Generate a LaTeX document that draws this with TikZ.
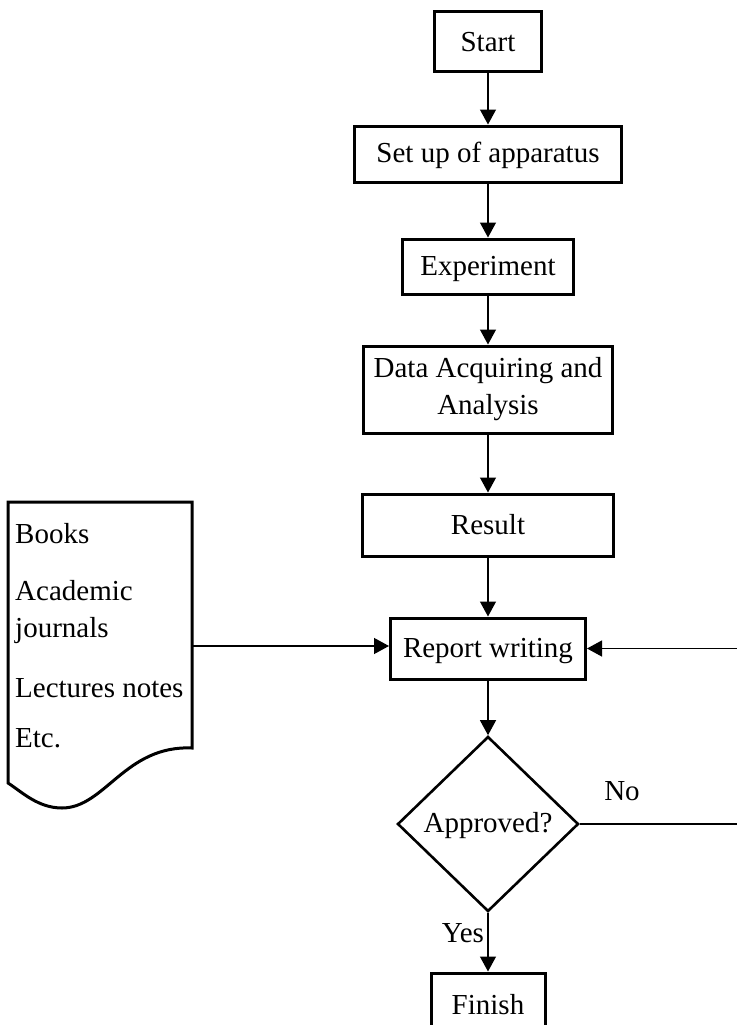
\documentclass[tikz,border=0pt]{standalone}
\usepackage{fontspec}
\setmainfont{Liberation Serif}
\usetikzlibrary{arrows.meta,shapes.geometric}

\begin{document}
\begin{tikzpicture}[x=1pt, y=-1pt, font=\fontsize{29}{37}\selectfont,
        stepbox/.style={draw, line width=3pt, inner sep=0pt, align=center},
        flow/.style={-{Triangle[width=16pt,length=15pt]}, line width=1.3pt}]
    \useasboundingbox (0,0) rectangle (736,1025);
    \node(start) at(488, 42) [stepbox, minimum width=107, minimum height=60] {Start};
    \node(setup) at(488, 154) [stepbox, minimum width=267, minimum height=56, text height=24] {Set up of apparatus};
    \node(exper) at(488, 266.5) [stepbox, minimum width=171, minimum height=55, text height=24] {Experiment};
    \node(data) at(488, 389.5) [stepbox, minimum width=249, minimum height=87] {Data Acquiring and\\Analysis};
    \node(result) at(488, 525) [stepbox, minimum width=251, minimum height=62] {Result};
    \node(report) at(488, 648.5) [stepbox, minimum width=195, minimum height=61, text height=24] {Report writing};
    \node(approved) at(488, 824) [draw, diamond, line width=2.6pt, inner sep=0pt,
        minimum width=181, minimum height=175, text height=24] {Approved?};
    \node(finish) at(488, 1005) [stepbox, minimum width=114, minimum height=64] {Finish};

    % sources document
    \draw[line width=3pt] (8,502) -- (192,502) -- (192,748)
        .. controls (125,745) and (105,808) .. (62,808)
        .. controls (38,808) and (22,792) .. (8,783) -- cycle;
    \node(refs) at(15, 523) [anchor=north west, inner sep=0pt, align=left]
        {Books\\[20pt]Academic\\journals\\[23pt]Lectures notes\\[13pt]Etc.};
    \coordinate(refsout) at(192, 646);
    \coordinate(loopback) at(745, 735);

    \draw[flow] (start) -- (setup);
    \draw[flow] (setup) -- (exper);
    \draw[flow] (exper) -- (data);
    \draw[flow] (data) -- (result);
    \draw[flow] (result) -- (report);
    \draw[flow] (report) -- (approved);
    \draw[flow] (refsout) -- (refsout -| report.west);
    \draw[flow] (approved.east) -| (loopback) |- (report.east);
    \draw[flow] (approved) -- node[left, pos=0.35] {Yes} (finish);
    \node(no) at(622, 791) {No};
\end{tikzpicture}
\end{document}
